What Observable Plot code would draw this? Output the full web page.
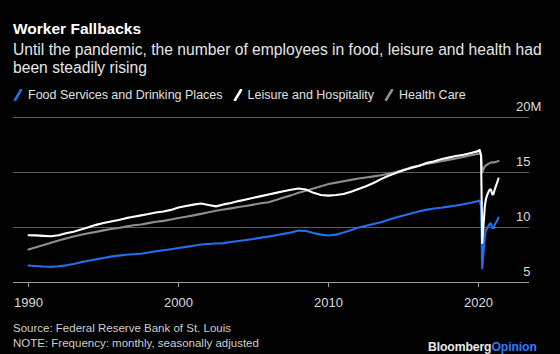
<!DOCTYPE html>
<html><head><meta charset="utf-8">
<script src="https://cdn.jsdelivr.net/npm/d3@7"></script>
<script src="https://cdn.jsdelivr.net/npm/@observablehq/plot@0.6"></script>
<style>
html,body{margin:0;padding:0;background:#000}
body{width:560px;height:354px;overflow:hidden;position:relative;font-family:"Liberation Sans",Arial,Helvetica,sans-serif}
.abs{position:absolute;left:13px;white-space:nowrap}
#title{top:19px;font-size:15.5px;font-weight:bold;color:#fff;line-height:20px}
#sub{top:41px;font-size:15.65px;line-height:18px;color:#e6e6e6;white-space:normal;width:545px}
#legend{top:87px;font-size:12.5px;line-height:16px;color:#e0e0e0;display:flex;align-items:center}
#legend .item{display:flex;align-items:center;margin-right:10px}
#legend svg{margin-right:5px}
#chart{position:absolute;top:100px;left:0}
#foot{top:321px;font-size:11.5px;line-height:14.5px;color:#cfcfcf}
#logo{position:absolute;left:428px;top:339px;font-size:12.2px;font-weight:bold;line-height:16px;color:#e8e8e8;letter-spacing:-0.1px}
#logo span{color:#2f7cf6}
</style>
</head><body>
<div id="title" class="abs">Worker Fallbacks</div>
<div id="sub" class="abs">Until the pandemic, the number of employees in food, leisure and health had been steadily rising</div>
<div id="legend" class="abs"></div>
<div id="chart"></div>
<div id="foot" class="abs">Source: Federal Reserve Bank of St. Louis<br>NOTE: Frequency: monthly, seasonally adjusted</div>
<div id="logo">Bloomberg<span>Opinion</span></div>
<script>
// decimal years
const dates = [1990.0,1990.5,1991.0,1991.5,1992.0,1992.5,1993.0,1993.5,1994.0,1994.5,1995.0,1995.5,1996.0,1996.5,1997.0,1997.5,1998.0,1998.5,1999.0,1999.5,2000.0,2000.5,2001.0,2001.5,2002.0,2002.5,2003.0,2003.5,2004.0,2004.5,2005.0,2005.5,2006.0,2006.5,2007.0,2007.5,2008.0,2008.5,2009.0,2009.5,2010.0,2010.5,2011.0,2011.5,2012.0,2012.5,2013.0,2013.5,2014.0,2014.5,2015.0,2015.5,2016.0,2016.5,2017.0,2017.5,2018.0,2018.5,2019.0,2019.5,2019.92,2020.08,2020.17,2020.25,2020.33,2020.42,2020.5,2020.58,2020.67,2020.75,2020.83,2020.92,2021.0,2021.08,2021.17,2021.25,2021.33];
// millions of employees
const food =    [6.55,6.50,6.45,6.42,6.48,6.56,6.68,6.85,6.98,7.10,7.22,7.35,7.44,7.52,7.57,7.62,7.72,7.84,7.93,8.03,8.14,8.24,8.34,8.45,8.50,8.55,8.58,8.68,8.78,8.86,8.96,9.08,9.17,9.30,9.42,9.55,9.72,9.68,9.50,9.35,9.28,9.35,9.55,9.75,10.00,10.15,10.32,10.48,10.70,10.90,11.10,11.28,11.45,11.60,11.72,11.80,11.90,12.00,12.12,12.25,12.38,12.45,11.95,6.30,7.70,9.20,9.75,9.95,10.15,10.35,10.35,9.95,9.95,10.25,10.45,10.65,10.90];
const leisure = [9.30,9.28,9.24,9.21,9.30,9.48,9.62,9.82,10.02,10.24,10.40,10.55,10.68,10.85,10.98,11.10,11.22,11.36,11.45,11.60,11.82,11.96,12.08,12.18,12.05,11.92,12.10,12.22,12.40,12.55,12.70,12.85,13.00,13.15,13.30,13.43,13.55,13.45,13.15,12.95,12.90,12.95,13.05,13.25,13.50,13.75,14.05,14.40,14.70,14.95,15.20,15.42,15.60,15.85,16.00,16.20,16.35,16.50,16.62,16.78,16.92,17.05,16.55,8.60,10.10,11.90,12.60,12.95,13.25,13.45,13.45,13.00,13.05,13.45,13.80,14.10,14.45];
const health =  [8.00,8.20,8.40,8.62,8.82,9.00,9.18,9.34,9.48,9.60,9.74,9.86,9.96,10.08,10.20,10.28,10.40,10.52,10.60,10.73,10.86,10.98,11.10,11.24,11.38,11.52,11.63,11.74,11.86,11.96,12.08,12.20,12.30,12.50,12.72,12.92,13.15,13.35,13.55,13.75,13.95,14.08,14.20,14.33,14.45,14.55,14.65,14.75,14.88,15.05,15.25,15.45,15.62,15.78,15.90,16.02,16.15,16.28,16.42,16.56,16.68,16.75,16.65,15.03,15.30,15.55,15.65,15.72,15.80,15.85,15.90,15.92,15.92,15.94,15.98,16.00,16.05];

const seriesNames = ["Food Services and Drinking Places","Leisure and Hospitality","Health Care"];
const seriesColors = ["#2070f0","#ffffff","#8e8e8e"];
const xTicks = [1990,2000,2010,2020];
const yTicks = [5,10,15,20];
const yUnit = "M";

// legend
const legend = document.getElementById("legend");
seriesNames.forEach((n,i)=>{
  const it = document.createElement("div"); it.className="item";
  it.innerHTML = `<svg width="10" height="12"><line x1="2" y1="11" x2="8" y2="1" stroke="${seriesColors[i]}" stroke-width="2.6" stroke-linecap="round"/></svg><span>${n}</span>`;
  legend.appendChild(it);
});

const mk = arr => dates.map((t,i)=>({t, v: arr[i]}));

const chart = Plot.plot({
  width: 560, height: 215,
  marginLeft: 13, marginRight: 31, marginTop: 17, marginBottom: 33,
  style: {background:"transparent", color:"#dcdcdc", fontSize:"13px", fontFamily:'"Liberation Sans",Arial,sans-serif'},
  x: {domain:[1989, 2023.4]},
  y: {domain:[5, 20]},
  marks: [
    Plot.ruleY(yTicks.slice(1), {stroke:"#5a5a5a", strokeWidth:1}),
    Plot.ruleY(yTicks.slice(0,1), {stroke:"#9a9a9a", strokeWidth:1.2}),
    Plot.axisX({ticks: xTicks, tickFormat: d=>String(d), tickSize:5, tickPadding:10, stroke:"#9a9a9a", fill:"#dcdcdc", label:null}),
    Plot.axisY({ticks: yTicks, anchor:"right", tickSize:0, tickPadding:0, textAnchor:"end", dx:1, dy:-11, tickFormat: d=>String(d), fill:"#dcdcdc", label:null}),
    Plot.text(yTicks.slice(-1), {y: d=>d, text: ()=>yUnit, frameAnchor:"right", textAnchor:"start", dx:1, dy:-11, fill:"#dcdcdc"}),
    Plot.line(mk(health), {x:"t", y:"v", stroke: seriesColors[2], strokeWidth:2.1}),
    Plot.line(mk(food), {x:"t", y:"v", stroke: seriesColors[0], strokeWidth:2.1}),
    Plot.line(mk(leisure), {x:"t", y:"v", stroke: seriesColors[1], strokeWidth:2.1})
  ]
});
document.getElementById("chart").appendChild(chart);
</script>
</body></html>
